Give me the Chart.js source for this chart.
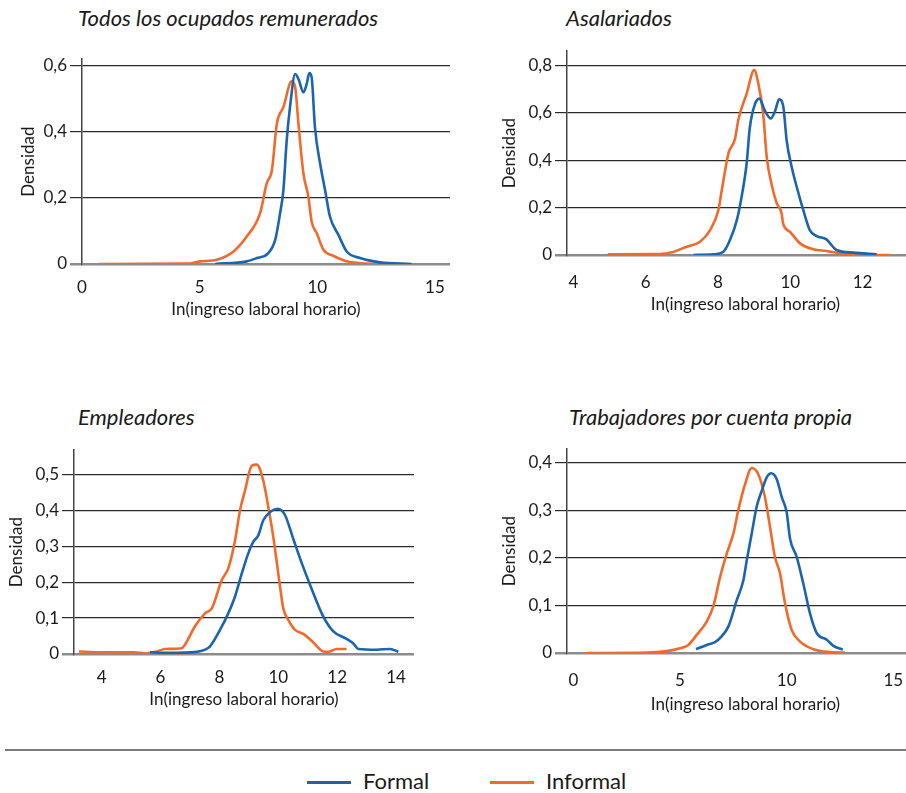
<!DOCTYPE html>
<html lang="es">
<head>
<meta charset="utf-8">
<script src="https://cdn.jsdelivr.net/npm/chart.js@4.4.1/dist/chart.umd.min.js"></script>
<style>
  html, body { margin: 0; padding: 0; background: #fff; }
  body { position: relative; width: 906px; height: 793px; overflow: hidden; font-family: Lato, "Noto Sans", sans-serif; color: #1a1a1a; }
  .title { position: absolute; font-style: italic; font-size: 22px; line-height: 22px; white-space: nowrap; }
  canvas { position: absolute; }
  .rule { position: absolute; left: 5px; top: 749px; width: 901px; height: 2px; background: #7a7a7a; }
  .key { position: absolute; top: 781px; width: 44px; height: 3px; }
  .lab { position: absolute; top: 769px; font-size: 22px; line-height: 24px; }
</style>
</head>
<body>

<div class="title" style="left:78px; top:7px;">Todos los ocupados remunerados</div>
<div class="title" style="left:566px; top:7px;">Asalariados</div>
<div class="title" style="left:78px; top:406px;">Empleadores</div>
<div class="title" style="left:569px; top:406px;">Trabajadores por cuenta propia</div>

<canvas id="c1" width="432" height="274" style="left:18px; top:46px;"></canvas>
<canvas id="c2" width="425" height="277" style="left:499px; top:38px;"></canvas>
<canvas id="c3" width="408" height="273" style="left:6px; top:437px;"></canvas>
<canvas id="c4" width="425" height="279" style="left:499px; top:436px;"></canvas>

<div class="rule"></div>
<div class="key" style="left:307px; background:#1c64ad;"></div>
<div class="lab" style="left:363px;">Formal</div>
<div class="key" style="left:490px; background:#f26a2b;"></div>
<div class="lab" style="left:546px;">Informal</div>

<script>
const seriesNames = ['Formal', 'Informal'];
const seriesColors = ['#1c64ad', '#f26a2b'];
const xTitle = 'In(ingreso laboral horario)';
const yTitle = 'Densidad';

// Todos los ocupados remunerados
const p1FormalX = [5.66, 7.0, 7.43, 7.92, 8.21, 8.42, 8.56, 8.7, 8.84, 9.06, 9.2, 9.41, 9.55, 9.66, 9.76, 9.9, 10.12, 10.33, 10.54, 10.9, 11.25, 11.82, 12.66, 14.0];
const p1FormalY = [0, 0.008, 0.018, 0.033, 0.073, 0.154, 0.224, 0.374, 0.475, 0.575, 0.56, 0.52, 0.545, 0.578, 0.565, 0.414, 0.304, 0.224, 0.143, 0.088, 0.038, 0.018, 0.005, 0];
const p1InformalX = [0.71, 4.46, 5.02, 5.73, 6.44, 7.0, 7.57, 7.85, 8.07, 8.28, 8.56, 8.91, 9.06, 9.2, 9.41, 9.62, 9.76, 9.98, 10.26, 10.68, 11.25, 12.1, 12.8];
const p1InformalY = [0, 0.001, 0.008, 0.013, 0.038, 0.083, 0.154, 0.244, 0.284, 0.424, 0.475, 0.553, 0.535, 0.424, 0.274, 0.204, 0.128, 0.093, 0.043, 0.025, 0.008, 0.001, 0];
const p1XTicks = [0, 5, 10, 15];
const p1YTicks = [0, 0.2, 0.4, 0.6];

// Asalariados
const p2FormalX = [7.32, 7.87, 8.15, 8.33, 8.52, 8.65, 8.79, 8.88, 9.02, 9.14, 9.3, 9.46, 9.58, 9.69, 9.81, 9.9, 10.04, 10.18, 10.36, 10.54, 10.73, 11.0, 11.28, 11.74, 12.39];
const p2FormalY = [0, 0.003, 0.014, 0.063, 0.147, 0.244, 0.384, 0.538, 0.636, 0.66, 0.608, 0.576, 0.608, 0.657, 0.622, 0.482, 0.37, 0.286, 0.189, 0.105, 0.08, 0.066, 0.021, 0.01, 0.003];
const p2InformalX = [4.95, 6.4, 6.76, 7.13, 7.5, 7.78, 8.01, 8.1, 8.29, 8.47, 8.56, 8.79, 9.0, 9.12, 9.25, 9.35, 9.48, 9.62, 9.76, 9.8, 9.99, 10.27, 10.64, 11.0, 11.37, 11.83, 12.76];
const p2InformalY = [0.003, 0.004, 0.013, 0.035, 0.056, 0.105, 0.19, 0.27, 0.43, 0.49, 0.57, 0.68, 0.78, 0.72, 0.595, 0.41, 0.3, 0.22, 0.175, 0.133, 0.098, 0.049, 0.024, 0.017, 0.007, 0.001, 0];
const p2XTicks = [4, 6, 8, 10, 12];
const p2YTicks = [0, 0.2, 0.4, 0.6, 0.8];

// Empleadores
const p3FormalX = [5.64, 6.21, 7.23, 7.51, 7.68, 8.02, 8.3, 8.53, 8.76, 8.98, 9.15, 9.32, 9.49, 9.72, 9.98, 10.23, 10.51, 10.8, 11.08, 11.53, 11.87, 12.32, 12.55, 12.72, 13.34, 13.8, 14.08];
const p3FormalY = [0.005, 0.003, 0.006, 0.012, 0.021, 0.067, 0.113, 0.16, 0.224, 0.28, 0.312, 0.33, 0.372, 0.395, 0.404, 0.386, 0.32, 0.252, 0.192, 0.104, 0.063, 0.042, 0.029, 0.014, 0.012, 0.014, 0.006];
const p3InformalX = [3.23, 3.94, 5.08, 5.53, 5.87, 6.15, 6.72, 6.83, 7.17, 7.51, 7.74, 8.08, 8.3, 8.53, 8.7, 8.87, 9.1, 9.27, 9.49, 9.66, 9.83, 10.0, 10.17, 10.34, 10.57, 10.85, 11.19, 11.53, 11.7, 11.98, 12.32];
const p3InformalY = [0.007, 0.005, 0.005, 0.002, 0.007, 0.014, 0.016, 0.026, 0.077, 0.113, 0.127, 0.206, 0.238, 0.316, 0.4, 0.455, 0.524, 0.527, 0.482, 0.409, 0.326, 0.224, 0.127, 0.095, 0.067, 0.056, 0.032, 0.007, 0.006, 0.014, 0.014];
const p3XTicks = [4, 6, 8, 10, 12, 14];
const p3YTicks = [0, 0.1, 0.2, 0.3, 0.4, 0.5];

// Trabajadores por cuenta propia
const p4FormalX = [5.75, 6.25, 6.64, 6.95, 7.27, 7.66, 7.97, 8.13, 8.36, 8.59, 8.83, 9.06, 9.27, 9.53, 9.77, 10.0, 10.16, 10.47, 10.78, 11.09, 11.41, 11.88, 12.19, 12.63];
const p4FormalY = [0.008, 0.017, 0.023, 0.035, 0.056, 0.111, 0.153, 0.195, 0.251, 0.307, 0.341, 0.369, 0.378, 0.366, 0.328, 0.296, 0.24, 0.202, 0.146, 0.084, 0.042, 0.028, 0.015, 0.007];
const p4InformalX = [0.62, 3.44, 4.38, 5.0, 5.39, 5.78, 6.25, 6.56, 6.88, 7.19, 7.5, 7.73, 8.05, 8.36, 8.67, 8.98, 9.22, 9.45, 9.69, 9.92, 10.23, 10.63, 11.25, 12.03, 12.73];
const p4InformalY = [0, 0.001, 0.004, 0.01, 0.017, 0.038, 0.066, 0.098, 0.16, 0.209, 0.251, 0.3, 0.355, 0.389, 0.376, 0.328, 0.265, 0.202, 0.167, 0.105, 0.049, 0.024, 0.008, 0.002, 0.001];
const p4XTicks = [0, 5, 10, 15];
const p4YTicks = [0, 0.1, 0.2, 0.3, 0.4];

const zip = (xs, ys) => xs.map((x, i) => ({ x, y: ys[i] }));
const fmt = v => v === 0 ? '0' : v.toFixed(1).replace('.', ',');

// xr/yr = visible range, yw = y axis width, xh = x axis height, lp = x label padding
function makePanel(id, xr, yr, xTicks, yTicks, formal, informal, yw, xh, lp) {
    new Chart(document.getElementById(id), {
        type: 'line',
        data: {
            datasets: [formal, informal].map((pts, i) => ({
                label: seriesNames[i],
                data: pts,
                borderColor: seriesColors[i],
                borderWidth: 2.6,
                pointRadius: 0,
                fill: false,
                cubicInterpolationMode: 'monotone'
            }))
        },
        options: {
            responsive: false,
            animation: false,
            layout: { padding: { top: 12, right: 0, bottom: 0, left: 0 } },
            plugins: { legend: { display: false }, tooltip: { enabled: false } },
            scales: {
                x: {
                    type: 'linear', min: xr[0], max: xr[1],
                    grid: { display: false, drawTicks: false },
                    border: { display: false },
                    afterBuildTicks: s => { s.ticks = xTicks.map(v => ({ value: v })); },
                    afterFit: s => { s.height = xh; s.paddingLeft = 0; s.paddingRight = 0; },
                    ticks: { color: '#1a1a1a', padding: lp, font: { family: 'Lato', size: 17 }, callback: v => String(v) },
                    title: { display: true, text: xTitle, color: '#1a1a1a', padding: 0, font: { family: 'Lato', size: 17 } }
                },
                y: {
                    type: 'linear', min: yr[0], max: yr[1],
                    afterBuildTicks: s => { s.ticks = yTicks.map(v => ({ value: v })); },
                    afterFit: s => { s.width = yw; },
                    grid: {
                        color: c => c.tick && c.tick.value === 0 ? '#8c8c8c' : '#2a2a2a',
                        lineWidth: c => c.tick && c.tick.value === 0 ? 2.5 : 1.2,
                        tickLength: 12
                    },
                    border: { display: true, color: '#444', width: 1.5 },
                    ticks: { color: '#1a1a1a', padding: 3, font: { family: 'Lato', size: 17 }, callback: v => fmt(v) },
                    title: { display: true, text: yTitle, color: '#1a1a1a', padding: 0, font: { family: 'Lato', size: 17 } }
                }
            }
        }
    });
}

makePanel('c1', [0, 15.64], [0, 0.62], p1XTicks, p1YTicks, zip(p1FormalX, p1FormalY), zip(p1InformalX, p1InformalY), 64, 56, 13);
makePanel('c2', [3.82, 13.7], [0, 0.86], p2XTicks, p2YTicks, zip(p2FormalX, p2FormalY), zip(p2InformalX, p2InformalY), 68, 60, 17);
makePanel('c3', [3.06, 14.61], [0, 0.567], p3XTicks, p3YTicks, zip(p3FormalX, p3FormalY), zip(p3InformalX, p3InformalY), 68, 56, 13);
makePanel('c4', [-0.3, 16.44], [0, 0.4286], p4XTicks, p4YTicks, zip(p4FormalX, p4FormalY), zip(p4InformalX, p4InformalY), 68, 62, 17);
</script>
</body>
</html>
